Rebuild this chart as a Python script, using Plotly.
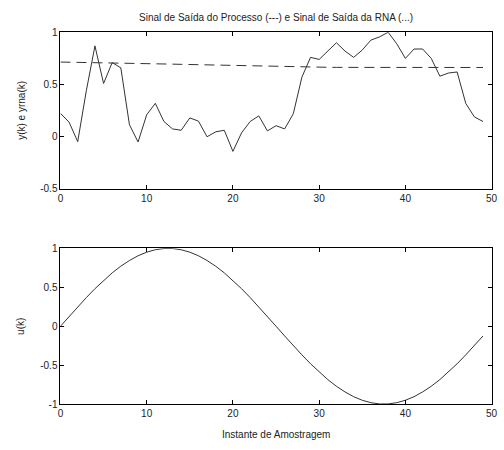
import plotly.graph_objects as go

k = list(range(50))
y_proc = [0.224, 0.14, -0.047, 0.44, 0.87, 0.51, 0.71, 0.66, 0.115, -0.05,
          0.21, 0.32, 0.146, 0.075, 0.062, 0.18, 0.15, 0.0, 0.047, 0.062,
          -0.14, 0.037, 0.146, 0.2, 0.056, 0.106, 0.075, 0.22, 0.57, 0.76,
          0.74, 0.82, 0.90, 0.82, 0.76, 0.83, 0.925, 0.956, 1.0, 0.89,
          0.75, 0.84, 0.84, 0.75, 0.58, 0.61, 0.62, 0.32, 0.19, 0.146]
y_rna = [0.715, 0.714, 0.713, 0.712, 0.711, 0.71, 0.709, 0.707, 0.705, 0.703,
         0.701, 0.699, 0.697, 0.695, 0.693, 0.691, 0.689, 0.687, 0.685, 0.683,
         0.681, 0.679, 0.677, 0.675, 0.673, 0.671, 0.669, 0.668, 0.667, 0.666,
         0.665, 0.665, 0.664, 0.664, 0.664, 0.663, 0.663, 0.663, 0.663, 0.663,
         0.663, 0.663, 0.663, 0.663, 0.663, 0.663, 0.663, 0.663, 0.663, 0.663]
u = [0.0, 0.125, 0.249, 0.368, 0.482, 0.588, 0.685, 0.771, 0.844, 0.905,
     0.951, 0.982, 0.998, 0.998, 0.982, 0.951, 0.905, 0.844, 0.771, 0.685,
     0.588, 0.482, 0.368, 0.249, 0.125, 0.0, -0.125, -0.249, -0.368, -0.482,
     -0.588, -0.685, -0.771, -0.844, -0.905, -0.951, -0.982, -0.998, -0.998, -0.982,
     -0.951, -0.905, -0.844, -0.771, -0.685, -0.588, -0.482, -0.368, -0.249, -0.125]

x_ticks = [0, 10, 20, 30, 40, 50]
y1_ticks = [-0.5, 0, 0.5, 1]
y2_ticks = [-1, -0.5, 0, 0.5, 1]

title_text = "Sinal de Saída do Processo (---) e Sinal de Saída da RNA (...)"
y1_label = "y(k) e yrna(k)"
y2_label = "u(k)"
x_label = "Instante de Amostragem"

FONT = dict(family="Liberation Sans, Arial, sans-serif", size=10, color="#222")

fig = go.Figure()
fig.add_trace(go.Scatter(x=k, y=y_proc, mode="lines", line=dict(color="#333", width=1),
                         xaxis="x", yaxis="y", showlegend=False))
fig.add_trace(go.Scatter(x=k, y=y_rna, mode="lines", line=dict(color="#333", width=1, dash="10px,6px"),
                         xaxis="x", yaxis="y", showlegend=False))
fig.add_trace(go.Scatter(x=k, y=u, mode="lines", line=dict(color="#333", width=1),
                         xaxis="x2", yaxis="y2", showlegend=False))

axis_common = dict(showgrid=False, zeroline=False, showline=True, linecolor="black", linewidth=1,
                   mirror="ticks", ticks="inside", ticklen=4, tickcolor="black", tickfont=FONT)

xd = [58.5 / 504, 497.5 / 504]
fig.update_layout(
    width=504, height=450,
    margin=dict(l=0, r=0, t=0, b=0),
    paper_bgcolor="white", plot_bgcolor="white",
    font=FONT,
    xaxis=dict(domain=xd, range=[0, 50], tickvals=x_ticks, anchor="y", **axis_common),
    yaxis=dict(domain=[1 - 188 / 450, 1 - 27 / 450], range=[-0.5, 1], tickvals=y1_ticks,
               ticktext=["-0.5", "0", "0.5", "1"], anchor="x", **axis_common),
    xaxis2=dict(domain=xd, range=[0, 50], tickvals=x_ticks, anchor="y2", **axis_common),
    yaxis2=dict(domain=[1 - 409 / 450, 1 - 249 / 450], range=[-1, 1], tickvals=y2_ticks,
                ticktext=["-1", "-0.5", "0", "0.5", "1"], anchor="x2", **axis_common),
    annotations=[
        dict(text=title_text, x=278 / 504, y=1 - 12 / 450, xref="paper", yref="paper",
             showarrow=False, font=FONT, xanchor="center", yanchor="middle"),
        dict(text=y1_label, x=18 / 504, y=1 - 107 / 450, xref="paper", yref="paper",
             showarrow=False, font=FONT, textangle=-90, xanchor="center", yanchor="middle"),
        dict(text=y2_label, x=18 / 504, y=1 - 329 / 450, xref="paper", yref="paper",
             showarrow=False, font=FONT, textangle=-90, xanchor="center", yanchor="middle"),
        dict(text=x_label, x=278 / 504, y=1 - 440 / 450, xref="paper", yref="paper",
             showarrow=False, font=FONT, xanchor="center", yanchor="middle"),
    ],
)

fig.write_html(
    "out.html",
    config={"displayModeBar": False, "staticPlot": True},
    post_script=(
        "document.documentElement.style.margin='0';"
        "document.documentElement.style.padding='0';"
        "document.documentElement.style.overflow='hidden';"
        "document.body.style.margin='0';"
        "document.body.style.padding='0';"
        "document.body.style.overflow='hidden';"
    ),
)
